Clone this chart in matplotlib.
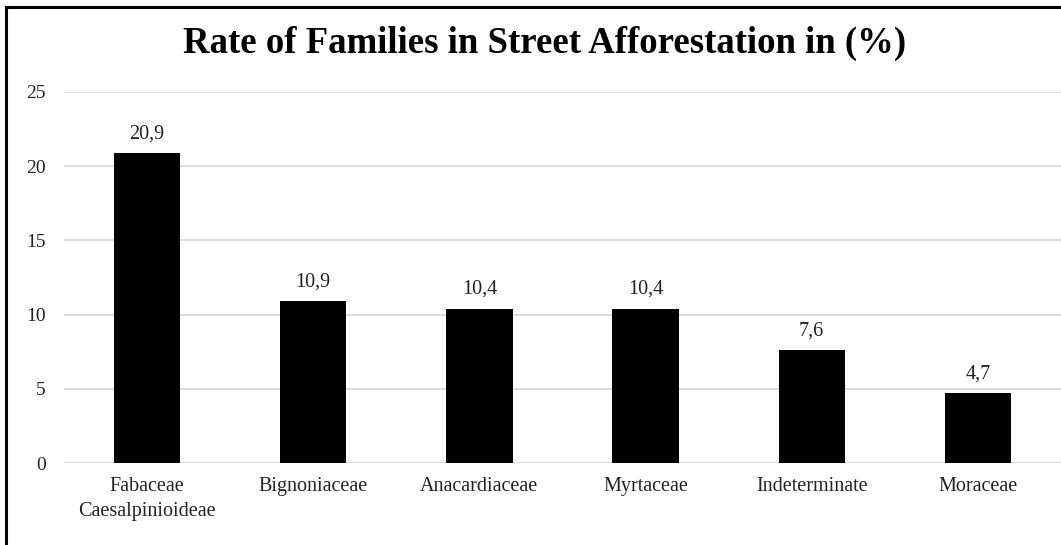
import matplotlib.pyplot as plt
from matplotlib.patches import Rectangle

# Data
families = ["Fabaceae\nCaesalpinioideae", "Bignoniaceae", "Anacardiaceae",
            "Myrtaceae", "Indeterminate", "Moraceae"]
rates = [20.9, 10.9, 10.4, 10.4, 7.6, 4.7]
yticks = [0, 5, 10, 15, 20, 25]

plt.rcParams['font.family'] = ['Liberation Serif', 'DejaVu Serif']

fig = plt.figure(figsize=(10.61, 5.45), dpi=100)
ax = fig.add_axes([64 / 1061, (545 - 463) / 545, (1061 - 64) / 1061, 371 / 545])

x = range(len(families))
ax.bar(x, rates, width=0.4, color='black', zorder=3)

for xi, v in zip(x, rates):
    ax.annotate(f"{v:.1f}".replace('.', ','), (xi, v), xytext=(0, 7),
                textcoords='offset points', ha='center', va='bottom',
                fontsize=14.5, color='#222222')

ax.set_xlim(-0.5, len(families) - 0.5)
ax.set_ylim(0, 25)
ax.set_yticks(yticks)
ax.set_xticks(list(x))
ax.set_xticklabels(families, fontsize=14.5, color='#222222', linespacing=1.45)
ax.tick_params(axis='y', labelsize=14, length=0, pad=13, labelcolor='#222222')
ax.tick_params(axis='x', length=0, pad=10)
ax.grid(axis='y', color='#d9d9d9', linewidth=1.3, zorder=0)
for s in ax.spines.values():
    s.set_visible(False)

fig.text(545 / 1061, 1 - 43 / 545, "Rate of Families in Street Afforestation in (%)",
         ha='center', va='center', fontsize=26.5, fontweight='bold')

# figure border (top and left visible in the reference)
fig.add_artist(Rectangle((6 / 1061, -0.05), 1.2, 1 - 7 / 545 + 0.05,
                         transform=fig.transFigure, fill=False,
                         edgecolor='black', linewidth=2.2))

fig.savefig("out.png", dpi=100)
